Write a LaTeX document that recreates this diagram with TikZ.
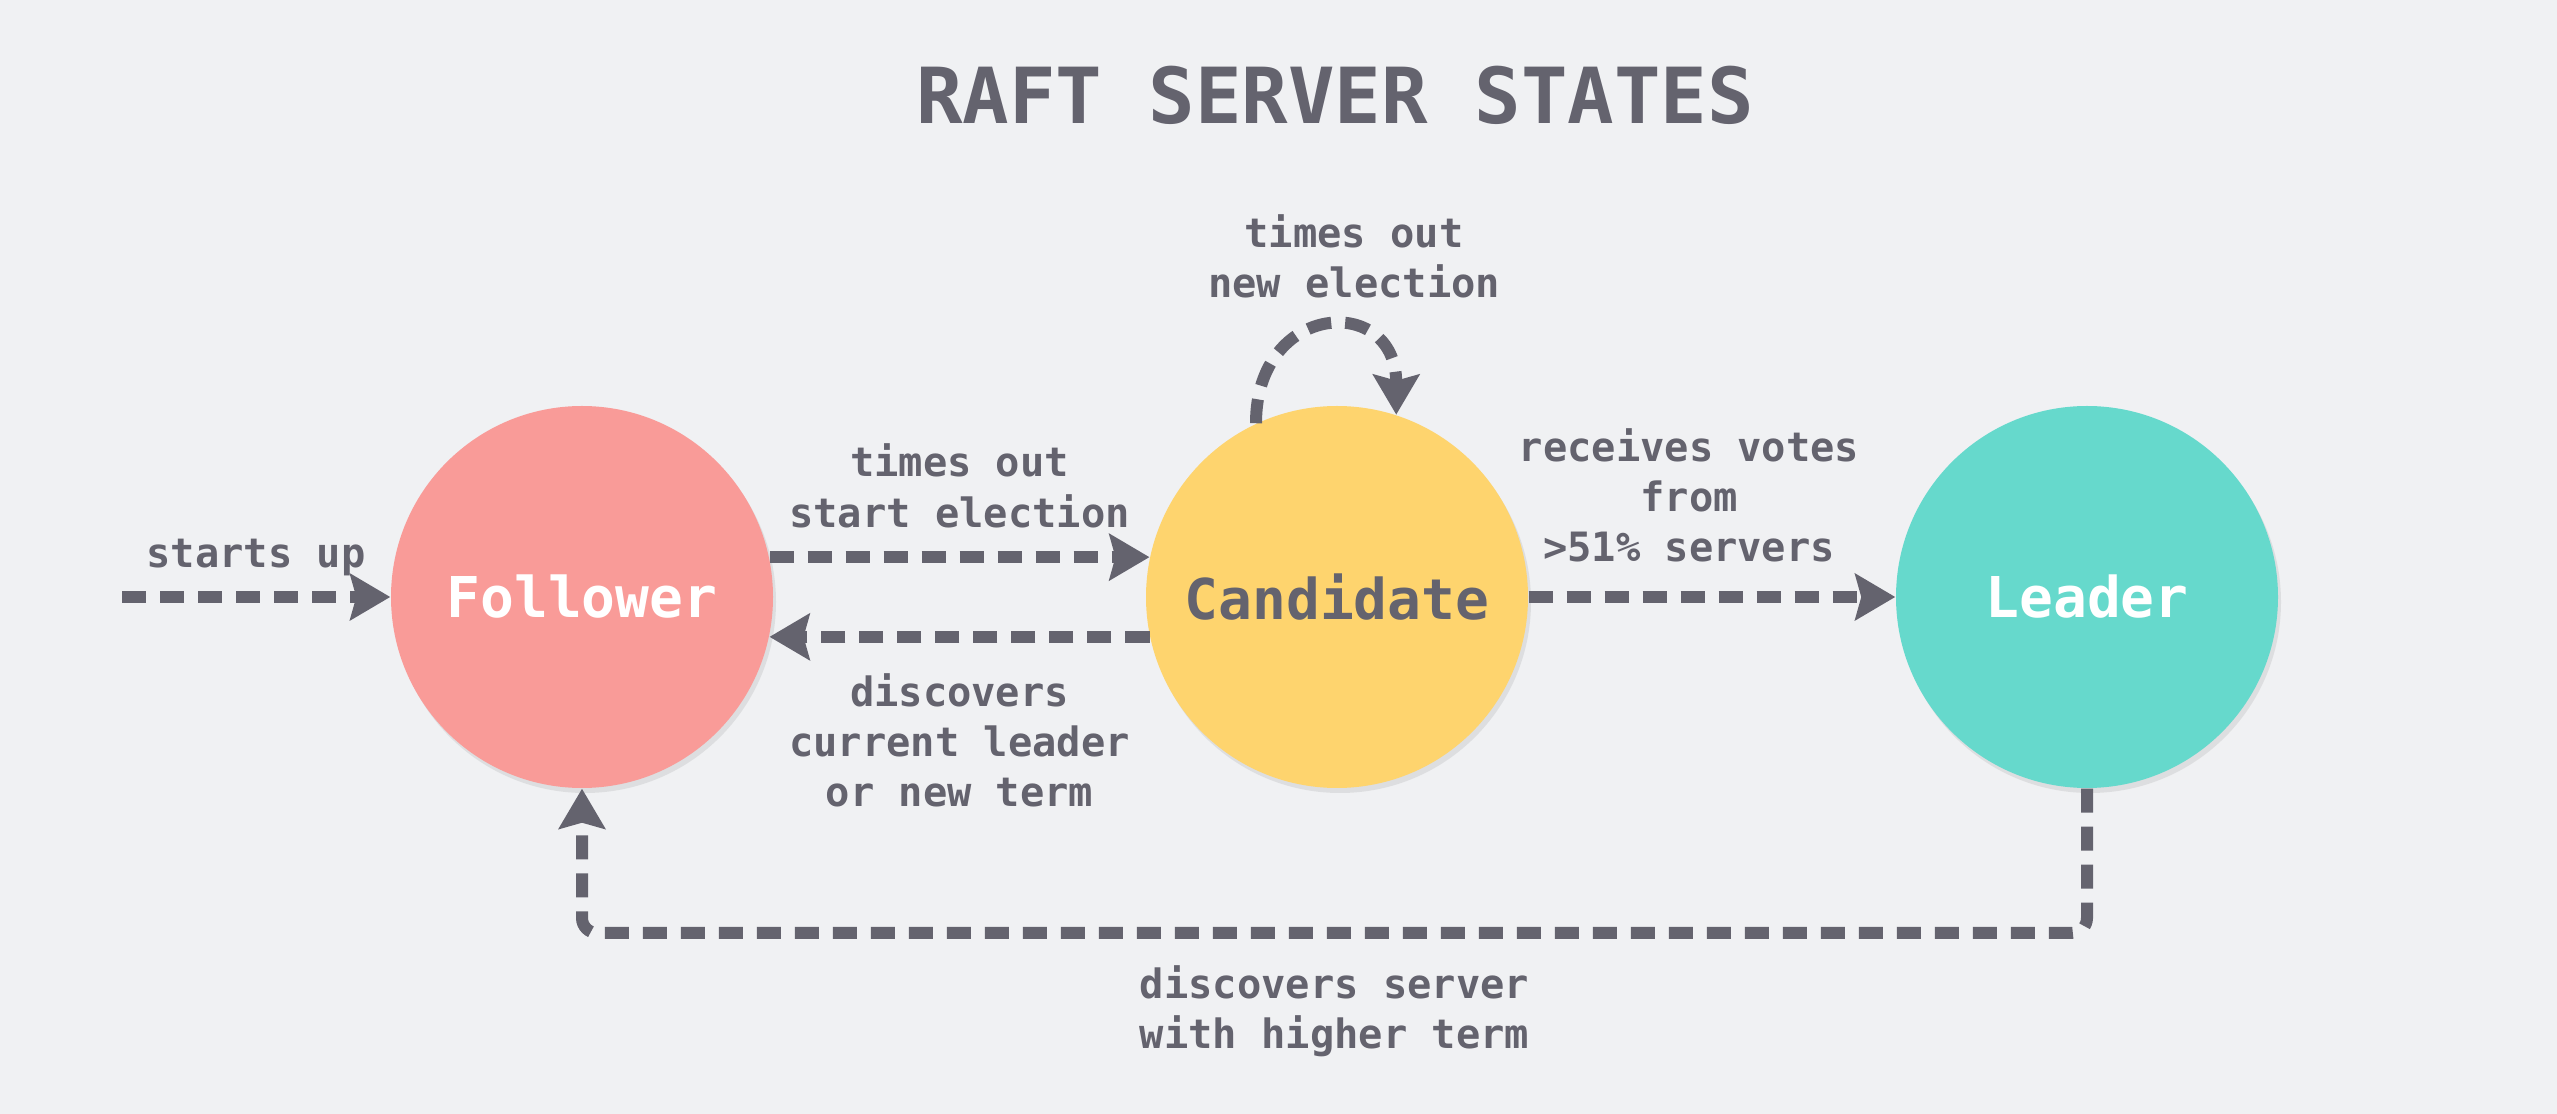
\documentclass[tikz,border=0pt]{standalone}
\usepackage{fontspec}
\setmonofont{DejaVu Sans Mono}
\usepackage{xcolor}
\usepackage{tikz}
\usetikzlibrary{arrows.meta,positioning,shadows}

\definecolor{paper}{HTML}{F0F1F3}
\definecolor{ink}{HTML}{64636E}
\definecolor{followerred}{HTML}{F99B98}
\definecolor{candyellow}{HTML}{FED46E}
\definecolor{leaderteal}{HTML}{66D9CC}

\begin{document}
\begin{tikzpicture}[
x=1cm,
y=1cm,
every node/.style={font=\ttfamily},
serverstate/.style={circle,minimum size=3.82cm,inner sep=0pt,font=\ttfamily\bfseries\fontsize{16}{19}\selectfont,drop shadow={opacity=0.16,shadow xshift=0.03cm,shadow yshift=-0.05cm}},
arr/.style={-{Stealth[length=0.4cm,width=0.46cm,inset=0.06cm]},line width=0.12cm,draw=ink,dash pattern=on 0.24cm off 0.14cm},
lbl/.style={text=ink,align=center,inner sep=1pt,font=\ttfamily\bfseries\fontsize{11.5}{14.3}\selectfont}
]
\fill[paper] (0,0) rectangle (25.57,11.14);
\useasboundingbox (0,0) rectangle (25.57,11.14);

\node[text=ink,font=\ttfamily\bfseries\fontsize{22}{26}\selectfont] (title) at (13.35,10.19) {RAFT SERVER STATES};
\node[serverstate,fill=followerred,text=white] (follower) at (5.82,5.17) {Follower};
\node[serverstate,fill=candyellow,text=ink] (candidate) at (13.37,5.17) {Candidate};
\node[serverstate,fill=leaderteal,text=white] (leader) at (20.87,5.17) {Leader};
\coordinate (boot) at (1.22,5.17);
\coordinate (floor) at (0,1.81);

\draw[arr] (boot) -- node[lbl,above=0.12cm] (lstart) {starts up} (follower);
\draw[arr] (follower.12) -- node[lbl,above=0.2cm] (ltimeout) {times out\\start election} (candidate.168);
\draw[arr] (candidate.192) -- node[lbl,below=0.27cm] (ldiscover) {discovers\\current leader\\or new term} (follower.-12);
\draw[arr] (candidate.115) .. controls +(0,1.22) and +(0,1.22) .. node[lbl,above=0.2cm,xshift=0.28cm] (lnewelect) {times out\\new election} (candidate.72);
\draw[arr] (candidate) -- node[lbl,above=0.25cm,xshift=-0.23cm] (lvotes) {receives votes\\from\\>51\% servers} (leader);
\draw[arr,rounded corners=0.15cm] (leader.south) -- (leader.south |- floor) -- node[lbl,below=0.23cm] (lhigher) {discovers server\\with higher term} (follower.south |- floor) -- (follower.south);
\end{tikzpicture}
\end{document}
